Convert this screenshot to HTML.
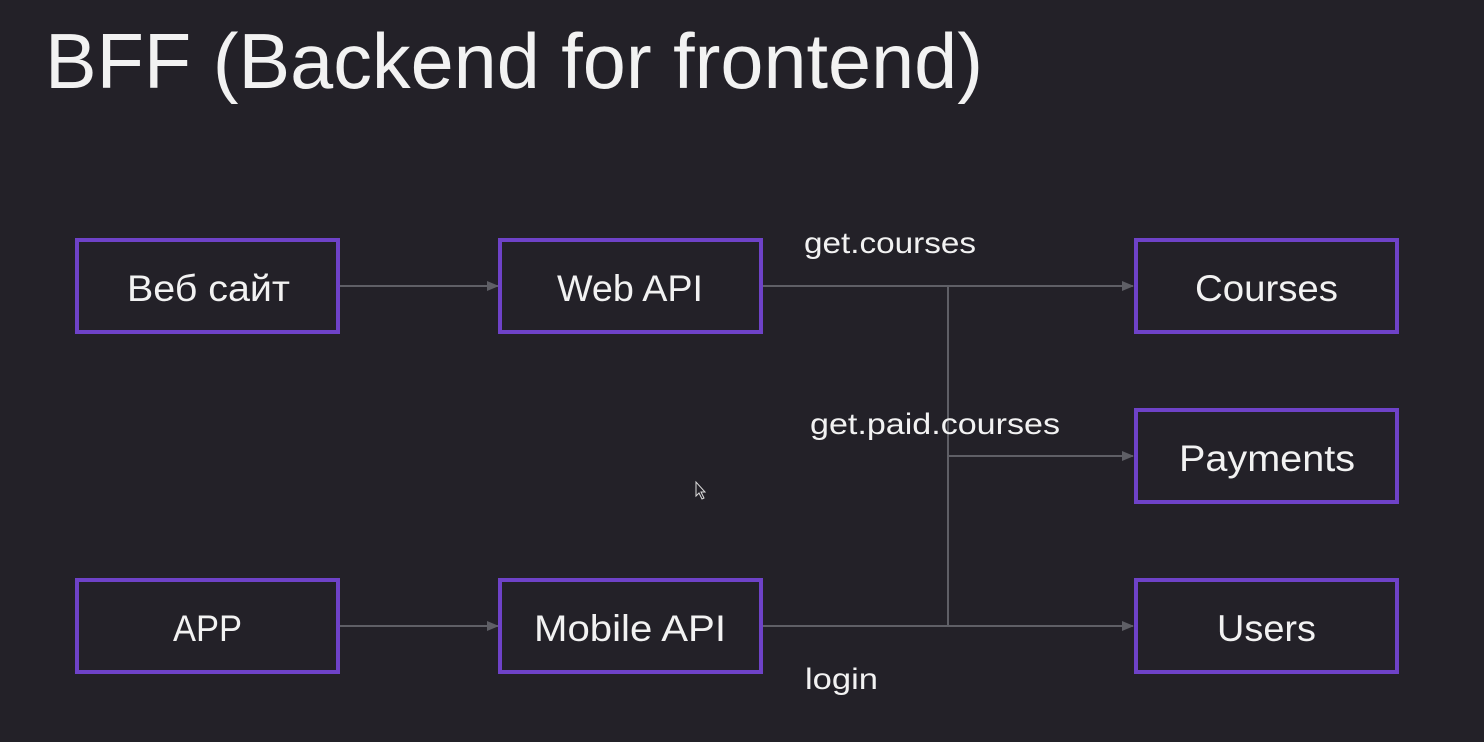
<!DOCTYPE html>
<html><head><meta charset="utf-8"><style>
html,body{margin:0;padding:0;background:#232128;}
</style></head><body>
<svg width="1484" height="742" xmlns="http://www.w3.org/2000/svg" style="display:block">
<rect width="1484" height="742" fill="#232128"/>
<defs><marker id="a" markerWidth="12" markerHeight="10" refX="11" refY="5" orient="auto" markerUnits="userSpaceOnUse"><path d="M0,0 L12,5 L0,10 z" fill="#5f5f66"/></marker></defs>
<text x="45" y="88" font-family="Liberation Sans, sans-serif" font-size="78" fill="#f2f2f2" textLength="938" lengthAdjust="spacingAndGlyphs">BFF (Backend for frontend)</text>
<g stroke="#5f5f66" stroke-width="2" fill="none">
<line x1="340" y1="286" x2="498" y2="286" marker-end="url(#a)"/>
<line x1="340" y1="626" x2="498" y2="626" marker-end="url(#a)"/>
<line x1="763" y1="286" x2="1133" y2="286" marker-end="url(#a)"/>
<line x1="763" y1="626" x2="1133" y2="626" marker-end="url(#a)"/>
<line x1="948" y1="456" x2="1133" y2="456" marker-end="url(#a)"/>
<line x1="948" y1="286" x2="948" y2="626"/>
</g>
<g stroke="#6e42c8" stroke-width="4" fill="#232128">
<rect x="77" y="240" width="261" height="92"/>
<rect x="500" y="240" width="261" height="92"/>
<rect x="1136" y="240" width="261" height="92"/>
<rect x="1136" y="410" width="261" height="92"/>
<rect x="77" y="580" width="261" height="92"/>
<rect x="500" y="580" width="261" height="92"/>
<rect x="1136" y="580" width="261" height="92"/>
</g>
<g font-family="Liberation Sans, DejaVu Sans, sans-serif" font-size="37" fill="#f2f2f2" lengthAdjust="spacingAndGlyphs">
<text x="127" y="301" textLength="163" lengthAdjust="spacingAndGlyphs">Веб сайт</text>
<text x="557" y="301" textLength="146" lengthAdjust="spacingAndGlyphs">Web API</text>
<text x="1195" y="301" textLength="143" lengthAdjust="spacingAndGlyphs">Courses</text>
<text x="1179" y="471" textLength="176" lengthAdjust="spacingAndGlyphs">Payments</text>
<text x="173" y="641" textLength="69" lengthAdjust="spacingAndGlyphs">APP</text>
<text x="534" y="641" textLength="192" lengthAdjust="spacingAndGlyphs">Mobile API</text>
<text x="1217" y="641" textLength="99" lengthAdjust="spacingAndGlyphs">Users</text>
</g>
<g font-family="Liberation Sans, sans-serif" font-size="30" fill="#f2f2f2">
<text x="804" y="253" textLength="172" lengthAdjust="spacingAndGlyphs">get.courses</text>
<text x="810" y="434" textLength="250" lengthAdjust="spacingAndGlyphs">get.paid.courses</text>
<text x="805" y="689" textLength="73" lengthAdjust="spacingAndGlyphs">login</text>
</g>
<path d="M696,482 L696,496 L699,493 L702,499 L704,498 L701,492 L705,492 z" fill="#232128" stroke="#ddd" stroke-width="1"/>
</svg>
</body></html>
